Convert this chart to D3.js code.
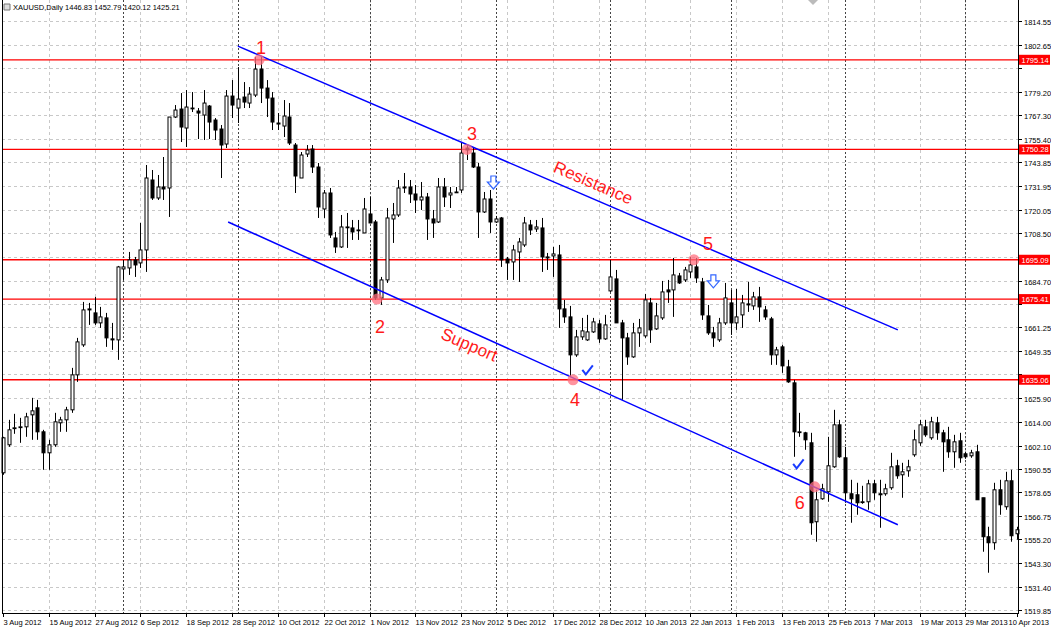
<!DOCTYPE html>
<html><head><meta charset="utf-8">
<script src="https://cdn.jsdelivr.net/npm/d3@7"></script>
<style>body{margin:0;background:#fff}svg{display:block}</style>
</head><body><svg id="c" width="1051" height="630"></svg>
<script>
const openP=[1588.5,1602.5,1611,1611.5,1611.5,1617.5,1621,1609,1598.5,1602.5,1613.5,1615,1620,1637.5,1652.5,1670,1668.5,1663.5,1666,1655.5,1655,1690.5,1691,1695,1693.5,1700,1735,1726,1731.5,1731,1766.5,1770.5,1761,1771,1769.5,1767.5,1772,1765,1760.5,1753,1777,1771,1776.5,1773.5,1777.5,1790.5,1781,1776,1763.5,1762,1766.5,1752.5,1736,1748,1750.5,1741.5,1720.5,1728.5,1706,1701.5,1711.5,1711,1710,1708.5,1718,1714,1676,1685,1715.5,1717.5,1731.5,1731.5,1728,1725,1726.5,1715.5,1714,1731.5,1727.5,1729,1730,1751,1748.5,1741.5,1719,1725.5,1714,1716,1695.5,1694,1699,1702.5,1712.5,1710.5,1711,1696.5,1697,1697.5,1670.5,1666.5,1647.5,1656.5,1655,1659,1663,1655.5,1679.5,1685.5,1663.5,1656,1646.5,1658.5,1657,1673.5,1660.5,1666,1680,1680,1687,1685,1689,1691.5,1684,1667,1658.5,1655,1663.5,1673.5,1663.5,1667.5,1673,1672,1676.5,1670,1665.5,1647.5,1651.5,1641.5,1633.5,1609,1608.5,1603.5,1564,1575.5,1579,1591.5,1612.5,1596,1578,1577.5,1574,1574,1583,1578,1578,1581,1592,1587.5,1589.5,1597.5,1603.5,1611.5,1606,1613.5,1608.5,1605,1599,1604.5,1598,1597,1599,1576,1556.5,1553.5,1580,1571.5,1584.5,1558];
const closeP=[1606,1610,1611,1611.5,1616.5,1619.5,1609,1598.5,1602.5,1614,1615,1620,1637.5,1654,1670,1670.5,1663.5,1666.5,1656,1655,1691.5,1691.5,1695,1692.5,1700,1736,1726,1731.5,1730.5,1766.5,1770,1761.5,1771.5,1771,1768.5,1773.5,1764,1760,1752.5,1777,1772.5,1775.5,1774,1778,1790.5,1781,1776,1764,1763,1767,1753.5,1737,1747.5,1750,1741.5,1721.5,1728.5,1707.5,1701.5,1711.5,1711.5,1709,1710,1720.5,1713.5,1676,1685,1716,1717.5,1731,1731,1728,1725,1726.5,1715.5,1713.5,1731.5,1726.5,1728.5,1729,1748.5,1750,1741.5,1719,1725.5,1714,1715.5,1695,1693.5,1700,1704,1713.5,1710,1711.5,1696.5,1696,1698,1670.5,1666.5,1647.5,1656.5,1659.5,1659,1664,1655.5,1662.5,1686.5,1663.5,1656,1646.5,1658.5,1661,1675,1660,1667,1679,1679,1687.5,1683.5,1690,1692.5,1686,1667.5,1658.5,1656,1663.5,1676,1663.5,1666.5,1673.5,1672.5,1676.5,1671.5,1666.5,1647.5,1650,1642,1634,1609,1609,1605,1563.5,1575,1580.5,1592,1612.5,1596.5,1578.5,1575.5,1573.5,1574,1583,1578.5,1577.5,1580.5,1591.5,1587,1589,1591.5,1605,1612.5,1607.5,1614,1608.5,1604,1599,1604,1596,1596.5,1598.5,1575,1556.5,1553.5,1580,1572.5,1584.5,1557,1560];
const highP=[1606.5,1615,1618,1616,1618.5,1626,1625,1610,1605,1618.5,1616.5,1621.5,1641,1656,1674,1673.5,1676.5,1671.5,1668.5,1663.5,1692,1695,1699,1696.5,1713.5,1742.5,1740,1737.5,1746.5,1766.5,1772.5,1778.5,1780,1779,1771,1780,1772.5,1766,1762.5,1780,1785,1791.5,1784,1781.5,1796.5,1796.5,1785,1779,1768.5,1775,1773.5,1753.5,1749,1752.5,1752.5,1743.5,1730,1731,1709,1717.5,1718.5,1715,1715,1726,1726.5,1715,1686.5,1721,1723.5,1735,1738.5,1735,1732.5,1734,1728.5,1720,1736,1736,1731.5,1731.5,1754,1752.5,1751.5,1743.5,1729,1730,1717,1716.5,1696.5,1702.5,1706,1716.5,1715,1715,1716,1698.5,1701.5,1702.5,1675,1672,1660,1666,1667.5,1666,1665,1667.5,1695,1690,1665,1658.5,1663.5,1665.5,1678,1676,1673.5,1684.5,1685,1696,1688.5,1691.5,1696.5,1696,1686,1672.5,1661.5,1666,1683.5,1680,1680.5,1677.5,1684,1679,1681.5,1672,1666.5,1651.5,1652.5,1645,1635,1618.5,1609,1608.5,1580,1583,1606.5,1620,1615,1601.5,1585,1583.5,1582,1585,1585,1585,1583,1598.5,1595,1593.5,1595,1610,1615,1615,1616.5,1616.5,1610,1611.5,1607.5,1608.5,1599,1600,1602.5,1576,1561.5,1583.5,1585,1589,1590,1561.5];
const lowP=[1587.5,1601.5,1608,1603.5,1606.5,1605,1605,1590,1590,1601.5,1609,1609,1618.5,1634,1651.5,1662.5,1662.5,1661,1651.5,1650,1645,1685,1687.5,1686.5,1691,1689,1725,1725,1725,1716.5,1766,1754,1751.5,1769,1755.5,1755,1755.5,1755,1736,1751,1766,1763.5,1771,1771,1776.5,1773.5,1766.5,1760,1760,1756.5,1752.5,1728.5,1736,1746.5,1738.5,1716,1716,1706,1698.5,1701,1701,1705,1705,1708.5,1713.5,1675,1672.5,1683.5,1703.5,1716.5,1728.5,1723.5,1718.5,1720,1705,1706,1713.5,1721.5,1721,1728.5,1728.5,1745,1741,1706,1718.5,1708.5,1713.5,1691.5,1685,1685,1684,1701.5,1707.5,1709,1689,1690,1686.5,1661,1663.5,1636.5,1646.5,1655,1654.5,1658.5,1653.5,1655,1679,1663.5,1625,1642.5,1646,1651.5,1656,1653.5,1660,1665,1673.5,1666.5,1683,1684,1686,1683.5,1665,1657.5,1651.5,1654,1662.5,1657.5,1660,1661,1669,1670,1664,1665,1642.5,1642.5,1638.5,1633.5,1596.5,1606.5,1600,1557.5,1554,1575,1574,1591,1596,1573.5,1563.5,1567.5,1573,1570,1575,1561,1577,1580,1585.5,1576,1586.5,1596.5,1602,1606.5,1605,1605,1589,1596,1591,1593.5,1595.5,1596,1575,1549,1538.5,1550,1567.5,1570,1554,1555];
const dateLabels=["3 Aug 2012","15 Aug 2012","27 Aug 2012","6 Sep 2012","18 Sep 2012","28 Sep 2012","10 Oct 2012","22 Oct 2012","1 Nov 2012","13 Nov 2012","23 Nov 2012","5 Dec 2012","17 Dec 2012","28 Dec 2012","10 Jan 2013","22 Jan 2013","1 Feb 2013","13 Feb 2013","25 Feb 2013","7 Mar 2013","19 Mar 2013","29 Mar 2013","10 Apr 2013"];
const dateIdx=[0,8,16,24,32,40,48,56,64,72,80,88,96,104,112,120,128,136,144,152,160,168,177];
const monthIdx=[21,41,64,86,106,127,147,168];
const priceTicks=[1814.55,1802.65,1791.10,1779.20,1767.30,1755.40,1743.85,1731.95,1720.05,1708.50,1696.60,1684.70,1673.15,1661.25,1649.35,1637.80,1625.90,1614.00,1602.10,1590.55,1578.65,1566.75,1555.20,1543.30,1531.40,1519.85];
const levels=[1795.14,1750.28,1695.09,1675.41,1635.06];
const resistance=[[41,1802],[156.2,1660]];
const support=[[39.3,1714],[156.2,1562.5]];
const points=[{n:"1",i:44.7,p:1795.14,dx:2,dy:-6},{n:"2",i:65.3,p:1675.41,dx:3,dy:34},{n:"3",i:81,p:1750.28,dx:5,dy:-9},{n:"4",i:99.5,p:1635.06,dx:2,dy:26},{n:"5",i:120.6,p:1695.09,dx:14,dy:-10},{n:"6",i:141.7,p:1581.5,dx:-15,dy:22}];
const arrows=[[85.6,1733.5],[124,1684]];
const checks=[[102,1640],[138.8,1593]];

const svg=d3.select("#c");
const L=2,R=1018,B=613;
const FONT="Liberation Sans, Arial";
const x=d3.scaleLinear().domain([0,177]).range([3,1017]);
const y=d3.scaleLinear().domain([1519.85,1814.55]).range([610,21]);
const g=svg.append("g");
g.selectAll(".hg").data(priceTicks).enter().append("line")
 .attr("x1",L).attr("x2",R).attr("y1",d=>Math.round(y(d))+.5).attr("y2",d=>Math.round(y(d))+.5)
 .attr("stroke","#c8c8c8").attr("stroke-dasharray","3,3");
g.selectAll(".vg").data(dateIdx.slice(1,22)).enter().append("line")
 .attr("x1",d=>Math.round(x(d))+.5).attr("x2",d=>Math.round(x(d))+.5).attr("y1",0).attr("y2",B)
 .attr("stroke","#c8c8c8").attr("stroke-dasharray","3,3");
g.selectAll(".mg").data(monthIdx).enter().append("line")
 .attr("x1",d=>Math.round(x(d))+.5).attr("x2",d=>Math.round(x(d))+.5).attr("y1",0).attr("y2",B)
 .attr("stroke","#444").attr("stroke-dasharray","2,2");
g.selectAll(".lv").data(levels).enter().append("line")
 .attr("x1",L).attr("x2",R).attr("y1",d=>y(d)).attr("y2",d=>y(d)).attr("stroke","#ff0000").attr("stroke-width",1.3);
const cg=g.append("g");
d3.range(openP.length).forEach(i=>{
 const o=openP[i],c=closeP[i],h=Math.max(highP[i],o,c),l=Math.min(lowP[i],o,c);
 const cx=Math.round(x(i))+.5;
 cg.append("line").attr("x1",cx).attr("x2",cx).attr("y1",y(h)).attr("y2",y(l)).attr("stroke","#000");
 const top=y(Math.max(o,c)),bot=y(Math.min(o,c));
 cg.append("rect").attr("x",cx-1.5).attr("y",top).attr("width",3).attr("height",Math.max(bot-top,0.8))
  .attr("fill",c>=o?"#fff":"#000").attr("stroke","#000").attr("stroke-width",1);
});
[resistance,support].forEach(ln=>{
 g.append("line").attr("x1",x(ln[0][0])).attr("y1",y(ln[0][1])).attr("x2",x(ln[1][0])).attr("y2",y(ln[1][1]))
  .attr("stroke","#0000ff").attr("stroke-width",1.5);
});
points.forEach(p=>{
 g.append("circle").attr("cx",x(p.i)).attr("cy",y(p.p)).attr("r",5.5).attr("fill","#ff6f7f").attr("opacity",0.75);
 g.append("text").attr("x",x(p.i)+p.dx).attr("y",y(p.p)+p.dy).attr("text-anchor","middle")
  .attr("font-family",FONT).attr("font-size",18).attr("fill","#ff1a1a").text(p.n);
});
const ang=Math.atan2(y(resistance[1][1])-y(resistance[0][1]),x(resistance[1][0])-x(resistance[0][0]))*180/Math.PI;
g.append("text").attr("transform",`translate(591,188) rotate(${ang})`).attr("text-anchor","middle")
 .attr("font-family",FONT).attr("font-size",17).attr("fill","#ff1a1a").text("Resistance");
g.append("text").attr("transform",`translate(467,350) rotate(${ang})`).attr("text-anchor","middle")
 .attr("font-family",FONT).attr("font-size",17).attr("fill","#ff1a1a").text("Support");
arrows.forEach(a=>{
 const ax=x(a[0]),ay=y(a[1]);
 g.append("path").attr("d",`M${ax-2.5},${ay-7}h5v6h3.5l-6,7l-6,-7h3.5z`).attr("fill","#fff").attr("stroke","#3366ff").attr("stroke-width",1.2);
});
checks.forEach(a=>{
 const ax=x(a[0]),ay=y(a[1]);
 g.append("path").attr("d",`M${ax-5},${ay}l3.5,4.5l7,-9`).attr("fill","none").attr("stroke","#1a3cff").attr("stroke-width",2);
});
svg.append("line").attr("x1",L+.5).attr("x2",L+.5).attr("y1",0).attr("y2",B).attr("stroke","#000");
svg.append("line").attr("x1",R+.5).attr("x2",R+.5).attr("y1",0).attr("y2",B+1).attr("stroke","#000");
svg.append("line").attr("x1",L).attr("x2",R).attr("y1",B+.5).attr("y2",B+.5).attr("stroke","#000");
const ya=svg.append("g");
priceTicks.forEach(t=>{
 const yy=Math.round(y(t))+.5;
 ya.append("line").attr("x1",R).attr("x2",R+4).attr("y1",yy).attr("y2",yy).attr("stroke","#000");
 if(levels.some(l=>Math.abs(y(l)-yy)<9)) return;
 ya.append("text").attr("x",R+6).attr("y",yy+3).attr("font-family",FONT).attr("font-size",7.5).attr("fill","#000").text(t.toFixed(2));
});
levels.forEach(l=>{
 const yy=y(l);
 ya.append("rect").attr("x",R+1).attr("y",yy-5).attr("width",31).attr("height",10).attr("fill","#ff0000");
 ya.append("text").attr("x",R+3.5).attr("y",yy+3).attr("font-family",FONT).attr("font-size",7.5).attr("fill","#fff").text(l.toFixed(2));
});
dateIdx.forEach((d,k)=>{
 const xx=Math.round(x(d))+.5;
 svg.append("line").attr("x1",xx).attr("x2",xx).attr("y1",B).attr("y2",B+4).attr("stroke","#000");
 svg.append("text").attr("x",k===22?1049:xx).attr("text-anchor",k===22?"end":"start").attr("y",B+12).attr("font-family",FONT).attr("font-size",7.5)
  .attr("fill","#000").text(dateLabels[k]);
});
svg.append("path").attr("d","M4,4h6v6h-6z").attr("fill","#ddd").attr("stroke","#777");
svg.append("text").attr("x",13).attr("y",10).attr("font-family",FONT).attr("font-size",7.5).text("XAUUSD,Daily  1446.83 1452.79 1420.12 1425.21");
svg.append("path").attr("d","M808,0h10l-5,5z").attr("fill","#bbb");
</script></body></html>
